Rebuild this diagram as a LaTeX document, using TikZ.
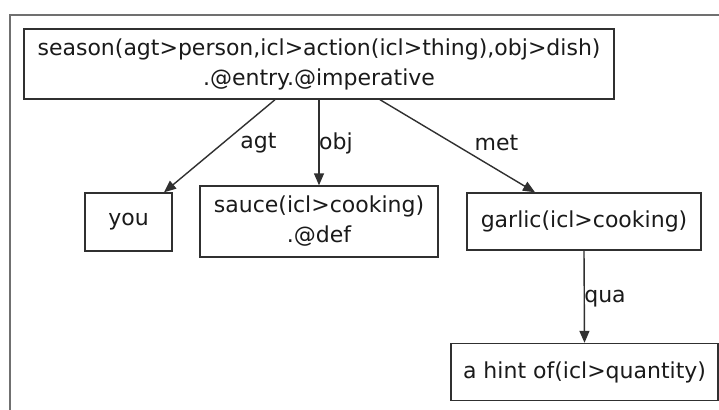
\documentclass[tikz,border=0pt]{standalone}
\usepackage{fontspec}
\setmainfont{DejaVu Sans}
\usetikzlibrary{arrows.meta}
\definecolor{boxline}{HTML}{303030}
\definecolor{frameline}{HTML}{707070}
\definecolor{txt}{HTML}{1A1A1A}
\begin{document}
\begin{tikzpicture}[x=1bp,y=-1bp,
  every node/.style={font=\fontsize{22bp}{30bp}\selectfont, text=txt},
  box/.style={draw=boxline, line width=1.4bp, inner sep=0pt, align=center},
  edge/.style={draw=boxline, line width=1.4bp, -{Triangle[length=12bp,width=10bp]}},
  lbl/.style={inner sep=0pt}]
\useasboundingbox (0,0) rectangle (719,409);
\fill[white] (0,0) rectangle (719,409);
\draw[frameline, line width=1.6bp] (10,420) -- (10,15) -- (730,15);
\node[box, minimum width=590bp, minimum height=70bp] (top) at (319,64)
  {season(agt>person,icl>action(icl>thing),obj>dish)\\.@entry.@imperative};
\node[box, minimum width=87bp, minimum height=58bp] (you) at (128.5,222) {you};
\node[box, minimum width=238bp, minimum height=71bp] (sauce) at (319,221.5)
  {sauce(icl>cooking)\\.@def};
\node[box, minimum width=234bp, minimum height=57bp] (garlic) at (584,221.5) {garlic(icl>cooking)};
\node[box, minimum width=267bp, minimum height=57bp] (hint) at (584.5,372) {a hint of(icl>quantity)};
\draw[edge] ([xshift=-44bp]top.south) -- ([xshift=35.5bp]you.north);
\draw[edge] (top.south) -- (sauce.north);
\draw[edge] ([xshift=61bp]top.south) -- ([xshift=-49bp]garlic.north);
\draw[edge] (garlic.south) -- (hint.north);
\node[lbl] (lagt) at (258.5,143) {agt};
\node[lbl] (lobj) at (336,143) {obj};
\node[lbl] (lmet) at (496.5,143) {met};
\node[lbl] (lqua) at (605,299) {qua};
\end{tikzpicture}
\end{document}
